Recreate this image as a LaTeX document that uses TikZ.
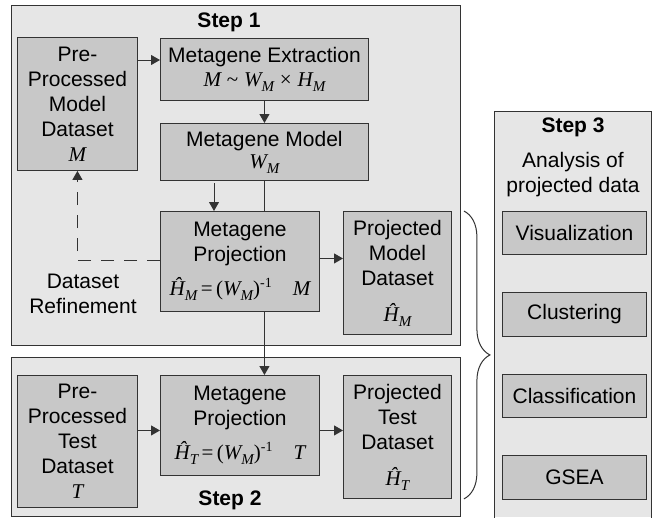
\documentclass[tikz,border=0pt]{standalone}
\usepackage{fontspec}
\setmainfont{Liberation Sans}
\newfontfamily\tmsfont{Liberation Serif}
\newcommand{\mv}[1]{{\tmsfont\itshape #1}}
\newcommand{\sbm}[1]{\raisebox{-5pt}{\fontsize{15}{15}\selectfont\tmsfont\itshape #1}}
\newcommand{\spm}[1]{\raisebox{8pt}{\fontsize{14}{14}\selectfont\tmsfont #1}}
\usetikzlibrary{arrows.meta,decorations.pathreplacing}
\definecolor{outerfill}{HTML}{E6E6E6}
\definecolor{innerfill}{HTML}{C8C8C8}
\definecolor{edge}{HTML}{333333}
\tikzset{
  stepframe/.style={fill=outerfill,draw=edge,line width=0.9pt},
  box/.style={draw=edge,fill=innerfill,line width=0.9pt,anchor=north west,align=center,inner sep=1pt,
    font=\fontsize{21}{25}\selectfont},
  lbl/.style={align=center,font=\fontsize{21}{25}\selectfont},
  steplbl/.style={font=\fontsize{21}{25}\selectfont\bfseries},
  arr/.style={-{Triangle[length=9pt,width=10pt]},line width=1pt,draw=edge},
  plain/.style={line width=1pt,draw=edge},
}
\begin{document}
\begin{tikzpicture}[x=1pt,y=-1pt]
\useasboundingbox (0,0) rectangle (652,517);
% step frames
\path[stepframe] (11,5) rectangle (460,345);
\path[stepframe] (11,357) rectangle (460,516);
\fill[outerfill] (494,111) rectangle (652,517);
\draw[edge,line width=0.9pt] (494,518) -- (494,111) -- (651.5,111) -- (651.5,518);
% step labels
\node[steplbl] (s1) at (229,22) {Step 1};
\node[steplbl] (s2) at (230,500) {Step 2};
\node[steplbl] (s3) at (573,127) {Step 3};
\node[lbl] (s3txt) at (573,175) {Analysis of\\projected data};
% step 1 boxes
\node[box,minimum width=120pt,minimum height=133pt] (pm) at (17,37) {Pre-\\Processed\\Model\\Dataset\\\mv{M}};
\node[box,minimum width=208pt,minimum height=62pt] (ext) at (160,38) {Metagene Extraction\\[-1pt]\mv{M} {\tmsfont\char"007E} \mv{W}\sbm{M} {\tmsfont\char"00D7} \mv{H}\sbm{M}};
\node[box,minimum width=208pt,minimum height=57pt] (mod) at (160,123) {Metagene Model\\[-3pt]\mv{W}\sbm{M}};
\draw[plain] (mod.south) -- (mod.south |- 0,211);
\node[box,minimum width=159pt,minimum height=100pt] (projM) at (160,211) {Metagene\\Projection\\[9pt]\mv{Ĥ}\sbm{M}{\tmsfont\,=\,(}\mv{W}\sbm{M}{\tmsfont)}\spm{-1}\quad\mv{M}};
\node[box,minimum width=108pt,minimum height=123pt] (pmd) at (343,211) {Projected\\Model\\Dataset\\[11pt]\mv{Ĥ}\sbm{M}};
% step 2 boxes
\node[box,minimum width=120pt,minimum height=132pt] (pt) at (17,375) {Pre-\\Processed\\Test\\Dataset\\\mv{T}};
\node[box,minimum width=159pt,minimum height=100pt] (projT) at (160,375) {Metagene\\Projection\\[9pt]\mv{Ĥ}\sbm{T}{\tmsfont\,=\,(}\mv{W}\sbm{M}{\tmsfont)}\spm{-1}\quad\mv{T}};
\node[box,minimum width=108pt,minimum height=123pt] (ptd) at (343,375) {Projected\\Test\\Dataset\\[11pt]\mv{Ĥ}\sbm{T}};
% step 3 boxes
\node[box,minimum width=144pt,minimum height=43pt] (vis) at (502,211) {Visualization};
\node[box,minimum width=144pt,minimum height=44pt] (clu) at (502,292) {Clustering};
\node[box,minimum width=144pt,minimum height=43pt] (cla) at (502,374) {Classification};
\node[box,minimum width=144pt,minimum height=44pt] (gsea) at (502,455) {GSEA};
% connectors
\draw[arr] ([yshift=-23pt]pm.north east) coordinate (a1) -- (a1 -| ext.west);
\draw[arr] (ext.south) -- (ext.south |- mod.north);
\draw[arr] ([xshift=54pt,yshift=28pt]projM.north west) -- ([xshift=54pt]projM.north west);
\draw[arr] (mod.south |- projM.south) -- (mod.south |- projT.north);
\draw[arr] ([yshift=3pt]projM.east) coordinate (a2) -- (a2 -| pmd.west);
\draw[arr,dash pattern=on 13pt off 10pt] ([yshift=1pt]projM.west) -| (pm.south);
\node[lbl] (refine) at (83,294) {Dataset\\Refinement};
\draw[arr] ([yshift=-5pt]projT.west) coordinate (a3) (a3 -| pt.east) -- (a3);
\draw[arr] ([yshift=-5pt]projT.east) coordinate (a4) -- (a4 -| ptd.west);
% brace
\draw[edge,line width=1pt,decorate,decoration={brace,amplitude=26pt}] ([xshift=12pt]pmd.north east) -- ([xshift=12pt]ptd.south east);
\end{tikzpicture}
\end{document}
